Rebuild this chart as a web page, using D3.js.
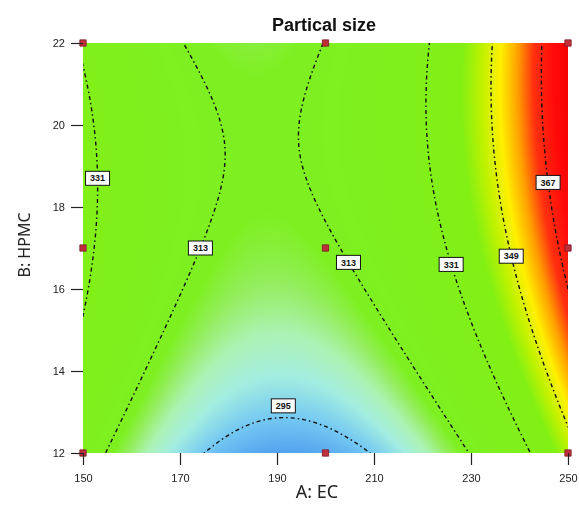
<!DOCTYPE html>
<html>
<head>
<meta charset="utf-8">
<script src="https://cdn.jsdelivr.net/npm/d3@7"></script>
<style>
  body { margin: 0; background: #fff; }
  #chart { position: relative; width: 579px; height: 505px; }
  #chart canvas, #chart svg { position: absolute; left: 0; top: 0; }
</style>
</head>
<body>
<div id="chart"></div>
<script>
// 1: DATA
// factor A: EC, factor B: HPMC
const aTicks = [150, 170, 190, 210, 230, 250];
const bTicks = [12, 14, 16, 18, 20, 22];

// 3x3 design points
const designA = [150, 200, 250, 150, 200, 250, 150, 200, 250];
const designB = [12, 12, 12, 17, 17, 17, 22, 22, 22];

// quadratic model in coded units: intercept, A, B, AB, A^2, B^2
const coef = [311.74, 18.45, 10.97, 5.67, 40.5, -9.49];

// contour levels
const levels = [295, 313, 331, 349, 367];

// contour labels: level, B where the label sits, which crossing (-1 left, 1 right, 0 apex)
const labelLevel = [295, 313, 313, 331, 331, 349, 367];
const labelB = [13.15, 17.0, 16.65, 18.7, 16.6, 16.8, 18.6];
const labelSide = [0, -1, 1, -1, 1, 1, 1];

// colour ramp (response value -> colour)
const rampValues = [289, 295, 300, 304, 308, 311, 340, 346, 352, 358, 364, 372, 380];
const rampColors = ["#4a98ee", "#74c8f2", "#a4eee0", "#acf2b4", "#92ee5a", "#7ef022", "#82f014",
                    "#c0f200", "#fff000", "#ffa000", "#ff3010", "#ff0a0a", "#f00000"];

// 2: SETUP
const W = 579, H = 505;
const plot = { left: 83, right: 568, top: 43, bottom: 453 };

const x = d3.scaleLinear().domain([150, 250]).range([plot.left, plot.right]);
const y = d3.scaleLinear().domain([12, 22]).range([plot.bottom, plot.top]);

const toCodedA = A => (A - 200) / 50;
const toCodedB = B => (B - 17) / 5;

function model(a, b) {
    const [b0, bA, bB, bAB, bAA, bBB] = coef;
    return b0 + bA * a + bB * b + bAB * a * b + bAA * a * a + bBB * b * b;
}

const color = d3.scaleLinear()
    .domain(rampValues)
    .range(rampColors)
    .interpolate(d3.interpolateRgb)
    .clamp(true);

const container = d3.select("#chart");

// 3: COLOUR FIELD (canvas)
const canvas = container.append("canvas").attr("width", W).attr("height", H);
const ctx = canvas.node().getContext("2d");
const pw = plot.right - plot.left, ph = plot.bottom - plot.top;
const img = ctx.createImageData(pw, ph);
for (let j = 0; j < ph; j++) {
    const b = toCodedB(y.invert(plot.top + j + 0.5));
    for (let i = 0; i < pw; i++) {
        const a = toCodedA(x.invert(plot.left + i + 0.5));
        const c = d3.rgb(color(model(a, b)));
        const k = (j * pw + i) * 4;
        img.data[k] = c.r;
        img.data[k + 1] = c.g;
        img.data[k + 2] = c.b;
        img.data[k + 3] = 255;
    }
}
ctx.putImageData(img, plot.left, plot.top);

const svg = container.append("svg").attr("width", W).attr("height", H);

// 4: CONTOUR LINES
// grid a bit larger than the plot so the polygon edges fall outside the clip
const n = 221, step = 0.01, start = -1.1;
const grid = new Array(n * n);
for (let j = 0; j < n; j++) {
    const b = -start - j * step;
    for (let i = 0; i < n; i++) {
        grid[j * n + i] = model(start + i * step, b);
    }
}
const contours = d3.contours().size([n, n]).thresholds(levels)(grid);

const proj = d3.geoTransform({
    point(px, py) {
        const a = start + (px - 0.5) * step;
        const b = -start - (py - 0.5) * step;
        this.stream.point(x(200 + 50 * a), y(17 + 5 * b));
    }
});
const path = d3.geoPath(proj);

svg.append("clipPath").attr("id", "plotClip")
    .append("rect")
    .attr("x", plot.left).attr("y", plot.top)
    .attr("width", pw).attr("height", ph);

svg.append("g")
    .attr("clip-path", "url(#plotClip)")
    .selectAll("path")
    .data(contours)
    .join("path")
    .attr("d", path)
    .attr("fill", "none")
    .attr("stroke", "#111")
    .attr("stroke-width", 1.4)
    .attr("stroke-dasharray", "4,3,1.5,3");

// contour labels
const labels = labelLevel.map((lv, i) => {
    const b = toCodedB(labelB[i]);
    const p = coef[4], q = coef[1] + coef[3] * b;
    const r = coef[0] + coef[2] * b + coef[5] * b * b - lv;
    let a = -q / (2 * p);
    if (labelSide[i] !== 0) {
        a = (-q + labelSide[i] * Math.sqrt(Math.max(0, q * q - 4 * p * r))) / (2 * p);
    }
    return { level: lv, A: 200 + 50 * a, B: labelB[i] };
});

const lab = svg.append("g").selectAll("g")
    .data(labels)
    .join("g")
    .attr("transform", d => `translate(${x(d.A)},${y(d.B)})`);

lab.append("rect")
    .attr("x", -12).attr("y", -7)
    .attr("width", 24).attr("height", 14)
    .attr("fill", "#fff")
    .attr("stroke", "#111")
    .attr("stroke-width", 1);

lab.append("text")
    .attr("text-anchor", "middle")
    .attr("dy", "0.35em")
    .style("font", "bold 9px 'Liberation Sans', Arial, sans-serif")
    .attr("fill", "#111")
    .text(d => d.level);

// 5: DESIGN POINTS
svg.append("g").selectAll("path")
    .data(designA.map((A, i) => ({ A, B: designB[i] })))
    .join("path")
    .attr("transform", d => `translate(${x(d.A)},${y(d.B)})`)
    .attr("d", d3.symbol(d3.symbolSquare, 40))
    .attr("fill", "#c0303c")
    .attr("stroke", "#7a1820")
    .attr("stroke-width", 0.8);

// 6: AXES
const xAxis = svg.append("g")
    .attr("transform", `translate(0,${plot.bottom})`)
    .call(d3.axisBottom(x).tickValues(aTicks).tickSize(12).tickPadding(9).tickFormat(d3.format("d")));
const yAxis = svg.append("g")
    .attr("transform", `translate(${plot.left},0)`)
    .call(d3.axisLeft(y).tickValues(bTicks).tickSize(12).tickPadding(6).tickFormat(d3.format("d")));

[xAxis, yAxis].forEach(g => {
    g.select(".domain").remove();
    g.selectAll(".tick line").attr("stroke", "#222").attr("stroke-width", 1.2);
    g.selectAll(".tick text")
        .attr("fill", "#222")
        .style("font", "11px 'Liberation Sans', Arial, sans-serif");
});

// 7: TITLES
svg.append("text")
    .attr("x", 324).attr("y", 31)
    .attr("text-anchor", "middle")
    .style("font", "bold 18px 'Liberation Sans', Arial, sans-serif")
    .attr("fill", "#111")
    .text("Partical size");

svg.append("text")
    .attr("x", 317).attr("y", 498)
    .attr("text-anchor", "middle")
    .style("font", "18px 'Noto Sans', sans-serif")
    .attr("fill", "#222")
    .text("A: EC");

svg.append("text")
    .attr("transform", "translate(30,245) rotate(-90)")
    .attr("text-anchor", "middle")
    .style("font", "16px 'Noto Sans', sans-serif")
    .attr("fill", "#222")
    .text("B: HPMC");
</script>
</body>
</html>
